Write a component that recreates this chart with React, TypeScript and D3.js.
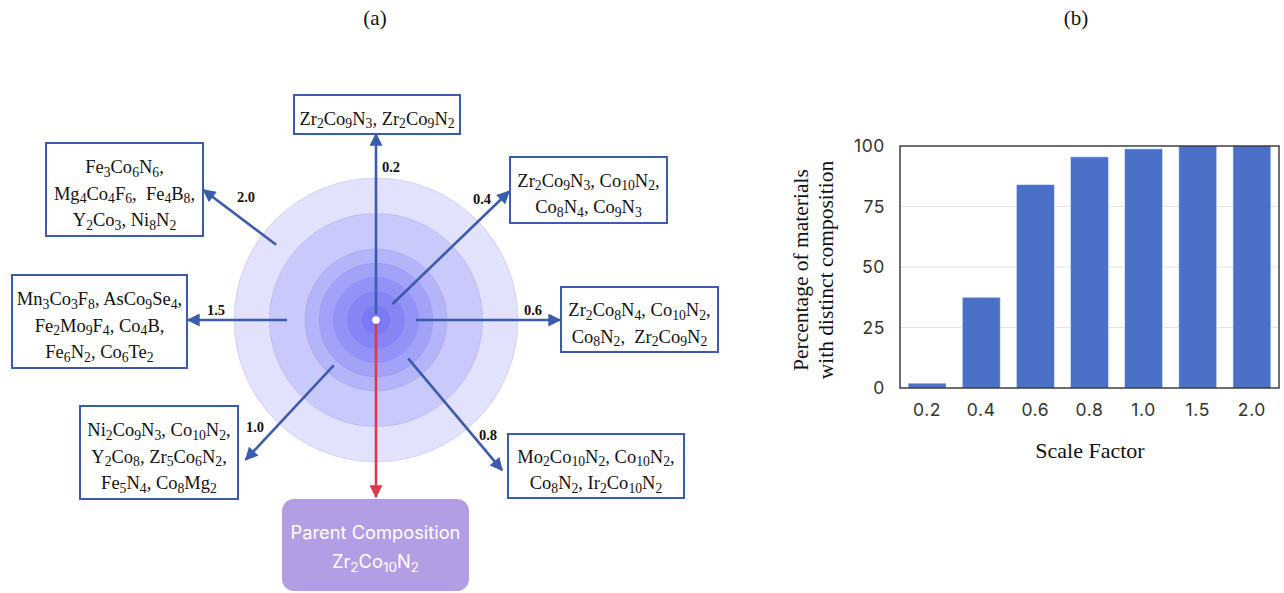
import React from 'react'
import * as d3 from 'd3'

// scale factors shared by both panels
const scaleFactors = ['0.2', '0.4', '0.6', '0.8', '1.0', '1.5', '2.0']
// (b) percentage of materials with distinct composition
const distinctPct = [2, 37.5, 84, 95.5, 98.8, 100, 100]
const yTicks = [0, 25, 50, 75, 100]

// (a) compositions found at each scale factor, one entry per box line
const compositions = [
  ['Zr2Co9N3, Zr2Co9N2'],
  ['Zr2Co9N3, Co10N2,', 'Co8N4, Co9N3'],
  ['Zr2Co8N4, Co10N2,', 'Co8N2,  Zr2Co9N2'],
  ['Mo2Co10N2, Co10N2,', 'Co8N2, Ir2Co10N2'],
  ['Ni2Co9N3, Co10N2,', 'Y2Co8, Zr5Co6N2,', 'Fe5N4, Co8Mg2'],
  ['Mn3Co3F8, AsCo9Se4,', 'Fe2Mo9F4, Co4B,', 'Fe6N2, Co6Te2'],
  ['Fe3Co6N6,', 'Mg4Co4F6,  Fe4B8,', 'Y2Co3, Ni8N2'],
]
const parentLabel = 'Parent Composition'
const parentFormula = 'Zr2Co10N2'

// diagram layout for each branch (angle in degrees, arrow start/end distance, label, box)
const branchLayout = [
  { angle: -90, r0: 6, r1: 186, lx: 391, ly: 172, box: [294, 95, 166, 39] },
  { angle: -44, r0: 23, r1: 185, lx: 482, ly: 204, box: [510, 157, 157, 66] },
  { angle: 0, r0: 40, r1: 184, lx: 533, ly: 315, box: [561, 287, 157, 65] },
  { angle: 50, r0: 50, r1: 196, lx: 488, ly: 440, box: [508, 434, 176, 64] },
  { angle: 133, r0: 62, r1: 191, lx: 255, ly: 432, box: [80, 406, 158, 93] },
  { angle: 180, r0: 89, r1: 188, lx: 216, ly: 315, box: [12, 275, 175, 93] },
  { angle: 217, r0: 125, r1: 216, lx: 246, ly: 202, box: [46, 143, 157, 93] },
]

const BLUE = '#3b5bac'
const SERIF = '"Liberation Serif", "Times New Roman", serif'
const SANS = 'Inter, "Noto Sans", sans-serif'

// renders a chemical formula string with digits as subscripts
const Formula = ({ text, x, y, size, family, fill = '#111', anchor = 'middle' }) => {
  const parts = text.split(/(\d+)/).filter(p => p !== '')
  const shift = size * 0.2
  let low = false
  return (
    <text x={x} y={y} fontSize={size} fontFamily={family} fill={fill} textAnchor={anchor} xmlSpace="preserve">
      {parts.map((p, i) => {
        const isNum = /^\d+$/.test(p)
        let dy = 0
        if (isNum && !low) { dy = shift; low = true }
        else if (!isNum && low) { dy = -shift; low = false }
        return (
          <tspan key={i} dy={dy} fontSize={isNum ? size * 0.74 : size}>{p}</tspan>
        )
      })}
    </text>
  )
}

const PanelA = () => {
  const cx = 376
  const cy = 320
  const rScale = d3.scaleLinear().domain([0, 2]).range([0, 142])
  const rings = scaleFactors.map(Number).sort((a, b) => b - a)
  const rad = (deg) => (deg * Math.PI) / 180

  return (
    <g>
      <text x={375} y={25} textAnchor="middle" fontFamily={SERIF} fontSize={21} fill="#111">(a)</text>
      {rings.map(s => (
        <circle key={s} cx={cx} cy={cy} r={rScale(s)} fill="#3c3cf0" fillOpacity={0.15}
          stroke="#8080f0" strokeOpacity={0.25} strokeWidth={1} />
      ))}

      {branchLayout.map((b, i) => {
        const a = rad(b.angle)
        const [bx, by, bw, bh] = b.box
        const lines = compositions[i]
        const mid = by + bh / 2 + 10
        return (
          <g key={i}>
            <line x1={cx + b.r0 * Math.cos(a)} y1={cy + b.r0 * Math.sin(a)}
              x2={cx + b.r1 * Math.cos(a)} y2={cy + b.r1 * Math.sin(a)}
              stroke={BLUE} strokeWidth={2.6} markerEnd="url(#arrowBlue)" />
            <text x={b.lx} y={b.ly} textAnchor="middle" fontFamily={SERIF} fontWeight="bold" fontSize={14.5} fill="#111">
              {scaleFactors[i]}
            </text>
            <rect x={bx} y={by} width={bw} height={bh} fill="#fff" stroke={BLUE} strokeWidth={2} />
            {lines.map((ln, j) => (
              <Formula key={j} text={ln} x={bx + bw / 2} y={mid + (j - (lines.length - 1) / 2) * 26.5}
                size={18.5} family={SERIF} />
            ))}
          </g>
        )
      })}

      <line x1={cx} y1={cy + 4} x2={cx} y2={497} stroke="#d93a4c" strokeWidth={2.6} markerEnd="url(#arrowRed)" />
      <circle cx={cx} cy={cy} r={3.8} fill="#fff" />

      <rect x={282} y={499} width={187} height={92} rx={12} fill="#b39ee6" />
      <text x={375.5} y={539} textAnchor="middle" fontFamily={SANS} fontSize={18.3} fill="#fff">{parentLabel}</text>
      <Formula text={parentFormula} x={375.5} y={568} size={18.3} family={SANS} fill="#fff" />
    </g>
  )
}

const PanelB = () => {
  const left = 900
  const right = 1279
  const top = 146
  const bottom = 388
  const x = d3.scaleBand().domain(scaleFactors).range([left, right]).paddingInner(0.3).paddingOuter(0.15)
  const y = d3.scaleLinear().domain([0, 100]).range([bottom, top])

  return (
    <g>
      <text x={1076} y={25} textAnchor="middle" fontFamily={SERIF} fontSize={21} fill="#111">(b)</text>
      {yTicks.filter(t => t > 0 && t < 100).map(t => (
        <line key={t} x1={left} x2={right} y1={y(t)} y2={y(t)} stroke="#e4e4e4" strokeWidth={1} />
      ))}
      {scaleFactors.map((s, i) => (
        <rect key={s} x={x(s)} y={y(distinctPct[i])} width={x.bandwidth()} height={y(0) - y(distinctPct[i])}
          fill="#4a70c8" stroke="#dfe6f7" strokeWidth={0.6} />
      ))}
      <rect x={left} y={top} width={right - left} height={bottom - top} fill="none" stroke="#222" strokeWidth={1.3} />
      {yTicks.map(t => (
        <text key={t} x={885} y={y(t) + 6} textAnchor="end" fontFamily={SANS} fontSize={17.5} letterSpacing={0.6} fill="#333">{t}</text>
      ))}
      {scaleFactors.map(s => (
        <text key={s} x={x(s) + x.bandwidth() / 2} y={416} textAnchor="middle" fontFamily={SANS} fontSize={17.5} letterSpacing={0.6} fill="#333">{s}</text>
      ))}
      <text x={1090} y={458} textAnchor="middle" fontFamily={SERIF} fontSize={22} fill="#111">Scale Factor</text>
      <g transform="translate(808, 270) rotate(-90)">
        <text x={0} y={0} textAnchor="middle" fontFamily={SERIF} fontSize={21.5} fill="#111">Percentage of materials</text>
        <text x={0} y={25} textAnchor="middle" fontFamily={SERIF} fontSize={21.5} fill="#111">with distinct composition</text>
      </g>
    </g>
  )
}

const App = () => {
  return (
    <svg width={1284} height={593} style={{ position: 'absolute', left: 0, top: 0, background: '#fff' }}>
      <defs>
        <marker id="arrowBlue" viewBox="0 0 10 10" refX={9} refY={5} markerWidth={14} markerHeight={13}
          markerUnits="userSpaceOnUse" orient="auto">
          <path d="M0,0 L10,5 L0,10 z" fill={BLUE} />
        </marker>
        <marker id="arrowRed" viewBox="0 0 10 10" refX={9} refY={5} markerWidth={14} markerHeight={13}
          markerUnits="userSpaceOnUse" orient="auto">
          <path d="M0,0 L10,5 L0,10 z" fill="#d93a4c" />
        </marker>
      </defs>
      <PanelA />
      <PanelB />
    </svg>
  )
}

export default App
